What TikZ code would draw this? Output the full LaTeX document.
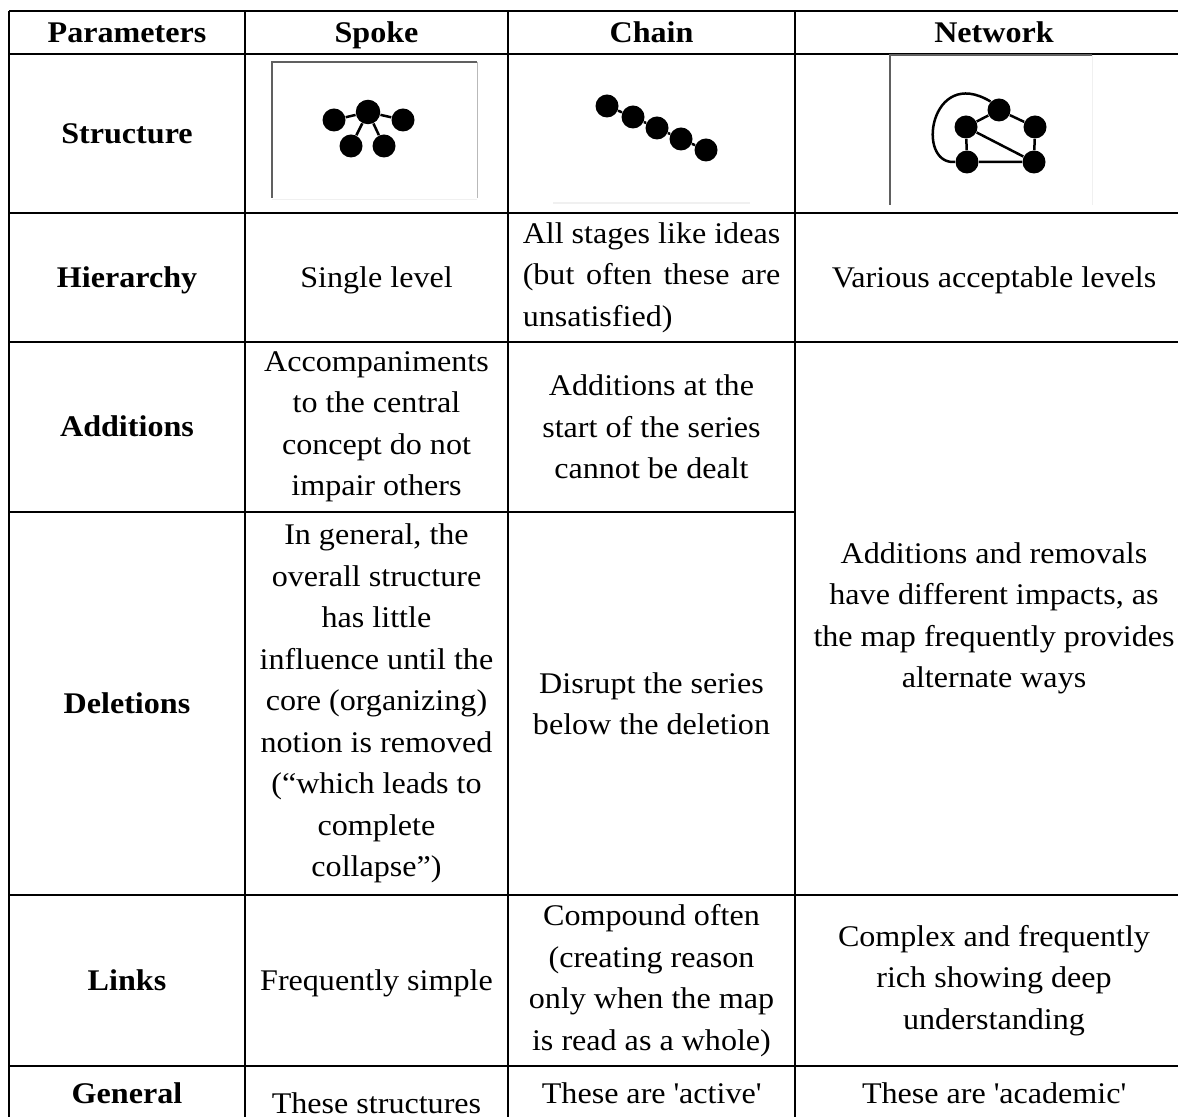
\documentclass[tikz,border=0pt]{standalone}
\usepackage{fontspec}
\setmainfont{Liberation Serif}[FakeStretch=1.07]
\usepackage{tikz}

\tikzset{
  cell/.style={align=center, inner sep=0pt, font=\fontsize{12}{16.6}\selectfont},
  headcell/.style={cell, anchor=base, font=\fontsize{12}{16.6}\selectfont\bfseries},
  oneline/.style={cell, anchor=base},
  rule/.style={line width=1pt},
  dot/.style={circle, fill=black, inner sep=0pt, minimum size=9.2pt},
  link/.style={line width=1pt},
}

\begin{document}
\begin{tikzpicture}[x=0.4pt, y=-0.4pt]
  \useasboundingbox (0,0) rectangle (1178,1117);

  % Grid lines
  \draw[rule] (9,11) -- (1178,11);
  \draw[rule] (9,54) -- (1178,54);
  \draw[rule] (9,213) -- (1178,213);
  \draw[rule] (9,342) -- (1178,342);
  \draw[rule] (9,512) -- (795,512);
  \draw[rule] (9,895) -- (1178,895);
  \draw[rule] (9,1066) -- (1178,1066);
  \draw[rule] (9,11) -- (9,1117);
  \draw[rule] (245,11) -- (245,1117);
  \draw[rule] (508,11) -- (508,1117);
  \draw[rule] (795,11) -- (795,1117);

  % Header
  \node[headcell] (hPar) at (127,42.5) {Parameters};
  \node[headcell] (hSpoke) at (376.5,42.5) {Spoke};
  \node[headcell] (hChain) at (651.5,42.5) {Chain};
  \node[headcell] (hNet) at (994,42.5) {Network};

  % Structure row
  \node[headcell] (pStruct) at (127,143.5) {Structure};
  % spoke picture
  \draw[gray!75!black, line width=1pt] (272,198) -- (272,62) -- (477,62);
  \draw[gray!55] (477,62) -- (477,198);
  \draw[gray!12] (272,200) -- (477,200);
  \node[dot, minimum size=9.8pt] (sHub) at (368,112) {};
  \node[dot] (sL) at (334,120) {};
  \node[dot] (sR) at (403,120) {};
  \node[dot] (sBL) at (351,146) {};
  \node[dot] (sBR) at (384,146) {};
  \draw[link] (sHub) -- (sL);
  \draw[link] (sHub) -- (sR);
  \draw[link] (sHub) -- (sBL);
  \draw[link] (sHub) -- (sBR);
  % chain picture
  \draw[gray!12, line width=1pt] (553,203) -- (750,203);
  \node[dot] (c1) at (607,106) {};
  \node[dot] (c2) at (633,117) {};
  \node[dot] (c3) at (657,128) {};
  \node[dot] (c4) at (681,139) {};
  \node[dot] (c5) at (706,150) {};
  \draw[link] (c1) -- (c2) -- (c3) -- (c4) -- (c5);
  % network picture
  \draw[gray!75!black, line width=1pt] (890,205) -- (890,55) -- (1092,55);
  \draw[gray!12] (1092,55) -- (1092,205);
  \node[dot] (n1) at (999,110) {};
  \node[dot] (n2) at (966,127) {};
  \node[dot] (n3) at (1035,127) {};
  \node[dot] (n4) at (967,162) {};
  \node[dot] (n5) at (1034,162) {};
  \draw[link] (n2) -- (n1) -- (n3) -- (n5) -- (n4) -- (n2) -- (n5);
  \draw[link] (n4.west) .. controls (915,165) and (930,65) .. (n1.north west);

  % Hierarchy row
  \node[headcell] (pHier) at (127,287.5) {Hierarchy};
  \node[oneline] (sHier) at (376.5,287.5) {Single level};
  \node[cell, text width=103pt, align=justify] (cHier) at (651.5,277.5)
    {All stages like ideas (but often these are unsatisfied)};
  \node[oneline] (nHier) at (994,287.5) {Various acceptable levels};

  % Additions row
  \node[headcell] (pAdd) at (127,437) {Additions};
  \node[cell] (sAdd) at (376.5,427)
    {Accompaniments\\to the central\\concept do not\\impair others};
  \node[cell] (cAdd) at (651.5,427)
    {Additions at the\\start of the series\\cannot be dealt};

  % Deletions row
  \node[headcell] (pDel) at (127,713.5) {Deletions};
  \node[cell] (sDel) at (376.5,703.5)
    {In general, the\\overall structure\\has little\\influence until the\\core (organizing)\\notion is removed\\(``which leads to\\complete\\collapse'')};
  \node[cell] (cDel) at (651.5,703.5)
    {Disrupt the series\\below the deletion};
  \node[cell] (nDel) at (994,618.5)
    {Additions and removals\\have different impacts, as\\the map frequently provides\\alternate ways};

  % Links row
  \node[headcell] (pLinks) at (127,990.5) {Links};
  \node[oneline] (sLinks) at (376.5,990.5) {Frequently simple};
  \node[cell] (cLinks) at (651.5,980.5)
    {Compound often\\(creating reason\\only when the map\\is read as a whole)};
  \node[cell] (nLinks) at (994,980.5)
    {Complex and frequently\\rich showing deep\\understanding};

  % General row (cut off)
  \node[headcell] (pGen) at (127,1103) {General};
  \node[oneline] (sGen) at (376.5,1113) {These structures};
  \node[oneline] (cGen) at (651.5,1103) {These are \textquotesingle active\textquotesingle};
  \node[oneline] (nGen) at (994,1103) {These are \textquotesingle academic\textquotesingle};
\end{tikzpicture}
\end{document}
